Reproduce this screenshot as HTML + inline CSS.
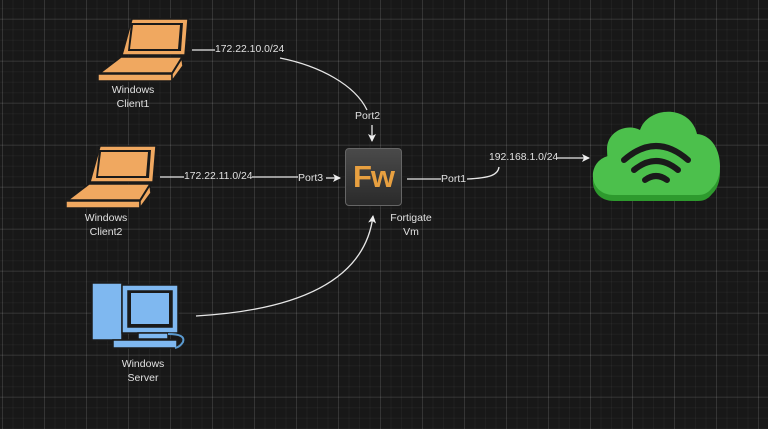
<!DOCTYPE html>
<html><head><meta charset="utf-8"><style>
html,body{margin:0;padding:0;}
body{width:768px;height:429px;overflow:hidden;background:#181818;font-family:"Liberation Sans",sans-serif;position:relative;}
.grid{position:absolute;inset:0;
background-image:
linear-gradient(rgba(255,255,255,0.09) 1px,transparent 1px),
linear-gradient(90deg,rgba(255,255,255,0.09) 1px,transparent 1px),
linear-gradient(rgba(255,255,255,0.035) 1px,transparent 1px),
linear-gradient(90deg,rgba(255,255,255,0.035) 1px,transparent 1px);
background-size:42px 42px,42px 42px,10.5px 10.5px,10.5px 10.5px;
background-position:2px 18.7px,2px 18.7px,2px 18.7px,2px 18.7px;}
.t{position:absolute;color:#e0e0e0;font-size:10.5px;text-align:center;line-height:14px;white-space:nowrap;}
.l{font-size:10.4px;}
.fw{position:absolute;left:345px;top:148px;width:57px;height:58px;border-radius:4px;background:linear-gradient(#4a4a4a,#2a2a2a);border:1px solid #666;box-sizing:border-box;color:#e8a040;font-weight:bold;font-size:31px;line-height:56px;text-align:center;letter-spacing:-1px;}
</style></head><body>
<div class="grid"></div>
<svg width="768" height="429" style="position:absolute;left:0;top:0">
<defs><marker id="a" markerWidth="8" markerHeight="8" refX="7" refY="4" orient="auto" markerUnits="userSpaceOnUse"><path d="M0,0 L8,4 L0,8 L2,4 z" fill="#eee"/></marker></defs>
<g stroke="#e6e6e6" stroke-width="1.3" fill="none">
<line x1="192" y1="50" x2="215" y2="50"/>
<path d="M280,58 C320,66 355,85 367,110"/>
<line x1="372" y1="125" x2="372" y2="141" marker-end="url(#a)"/>
<line x1="160" y1="177" x2="184" y2="177"/>
<line x1="252" y1="177" x2="298" y2="177"/>
<line x1="326" y1="178" x2="340" y2="178" marker-end="url(#a)"/>
<line x1="407" y1="179" x2="441" y2="179"/>
<path d="M467,179 C490,178 498,175 499,167"/>
<line x1="557" y1="158" x2="589" y2="158" marker-end="url(#a)"/>
<path d="M196,316 C300,310 365,280 373,216" marker-end="url(#a)"/>
</g>
<g fill="#f0a860" stroke="#1a1a1a" stroke-width="1.5">
<polygon points="132,19 188,19 185,55 122,55"/>
<polygon points="131,23 183,23 181,51 128,51" fill="#1a1a1a" stroke="none"/>
<polygon points="133,25 180,25 178,49 130,49" fill="#f0a860" stroke="none"/>
<polygon points="121,57 182,57 172,73 100,73"/>
<polygon points="98,74 172,74 172,81 98,81"/>
<polygon points="172,74 182,58 183,66 172,81"/>
</g>
<g fill="#f0a860" stroke="#1a1a1a" stroke-width="1.5">
<polygon points="100,146 156,146 153,182 90,182"/>
<polygon points="99,150 151,150 149,178 96,178" fill="#1a1a1a" stroke="none"/>
<polygon points="101,152 148,152 146,176 98,176" fill="#f0a860" stroke="none"/>
<polygon points="89,184 150,184 140,200 68,200"/>
<polygon points="66,201 140,201 140,208 66,208"/>
<polygon points="140,201 150,185 151,193 140,208"/>
</g>
<g fill="#7fb8f0" stroke="#1a1a1a" stroke-width="1.5">
<rect x="92" y="283" width="30" height="57"/>
<rect x="122" y="285" width="56" height="48"/>
<rect x="128" y="291" width="44" height="36" fill="#1a1a1a"/>
<rect x="131" y="293" width="38" height="31" fill="#7fb8f0" stroke="none"/>
<rect x="138" y="333" width="30" height="6"/>
<rect x="113" y="340" width="64" height="8"/>
<path d="M168,334 q18,0 15,8 q-3,5 -8,6" fill="none" stroke="#5a9ad0" stroke-width="2"/>
</g>
<g>
<path d="M614,201 C588,201 586,168 608,162 C602,140 625,128 640,136 C648,112 690,110 697,140 C722,142 726,182 712,194 C708,199 704,201 698,201 Z" fill="#2e9a2e"/>
<path d="M614,195 C588,195 586,162 608,156 C602,134 625,122 640,130 C648,106 690,104 697,134 C722,136 726,176 712,188 C708,193 704,195 698,195 Z" fill="#4cc04c"/>
<g fill="none" stroke="#1a1a1a" stroke-width="6" stroke-linecap="round">
<path d="M624,160 Q656,132 688,160"/>
<path d="M634,170 Q656,152 678,170"/>
<path d="M645,180 Q656,172 667,180"/>
</g>
</g>
</svg>
<div class="fw">Fw</div>
<div class="t l" style="left:215px;top:43px;">172.22.10.0/24</div>
<div class="t" style="left:355px;top:109px;">Port2</div>
<div class="t l" style="left:184px;top:170px;">172.22.11.0/24</div>
<div class="t" style="left:298px;top:171px;">Port3</div>
<div class="t" style="left:441px;top:172px;">Port1</div>
<div class="t l" style="left:489px;top:151px;">192.168.1.0/24</div>
<div class="t" style="left:103px;top:83px;width:60px;">Windows<br>Client1</div>
<div class="t" style="left:76px;top:211px;width:60px;">Windows<br>Client2</div>
<div class="t" style="left:381px;top:211px;width:60px;">Fortigate<br>Vm</div>
<div class="t" style="left:113px;top:357px;width:60px;">Windows<br>Server</div>
</body></html>
